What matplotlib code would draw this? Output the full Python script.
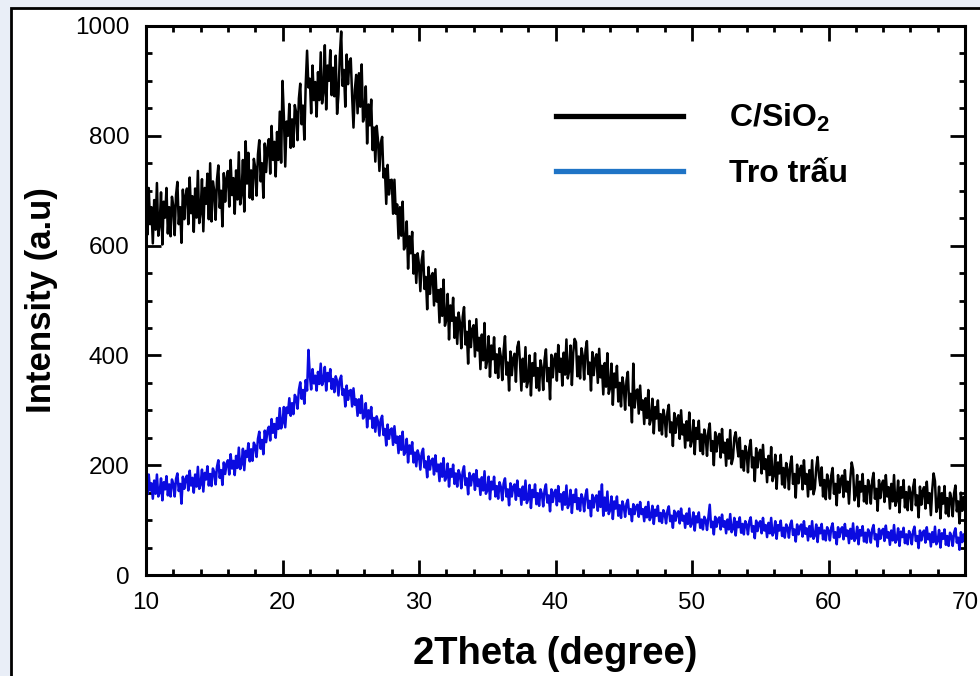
import matplotlib
matplotlib.use("Agg")
import matplotlib.pyplot as plt
from matplotlib.lines import Line2D
from matplotlib.patches import Rectangle
from matplotlib.ticker import MultipleLocator
import numpy as np

plt.rcParams['font.family'] = ['Liberation Sans', 'DejaVu Sans']
plt.rcParams['mathtext.fontset'] = 'custom'
plt.rcParams['mathtext.rm'] = 'Liberation Sans'
plt.rcParams['mathtext.bf'] = 'Liberation Sans:bold'

# 2theta scan, 0.1 degree step from 10 to 70
two_theta = np.linspace(10, 70, 601)

# C/SiO2 intensity, one row per degree (10 .. 69), then 70
c_sio2 = [
    686, 620, 705, 639, 670, 604, 683, 629, 714, 618,
    637, 697, 602, 680, 651, 705, 622, 670, 617, 689,
    672, 619, 692, 716, 639, 670, 605, 702, 648, 691,
    704, 639, 724, 659, 690, 625, 704, 651, 736, 641,
    660, 721, 626, 705, 676, 731, 648, 750, 644, 717,
    700, 647, 720, 746, 669, 700, 635, 732, 680, 723,
    736, 671, 756, 692, 723, 658, 737, 684, 770, 675,
    694, 756, 662, 790, 713, 769, 687, 737, 684, 758,
    742, 691, 766, 792, 717, 750, 687, 786, 734, 779,
    794, 731, 818, 756, 789, 726, 807, 756, 844, 751,
    900, 836, 744, 826, 800, 858, 778, 830, 780, 856,
    842, 792, 868, 895, 821, 855, 793, 893, 955, 888,
    904, 841, 928, 865, 898, 835, 916, 865, 952, 859,
    880, 965, 848, 928, 900, 956, 874, 924, 872, 946,
    840, 875, 946, 990, 891, 920, 853, 948, 894, 935,
    941, 873, 815, 884, 911, 841, 914, 853, 930, 826,
    837, 890, 786, 857, 819, 866, 774, 815, 753, 818,
    790, 736, 787, 798, 724, 740, 676, 747, 693, 719,
    720, 658, 720, 658, 675, 613, 670, 618, 680, 593,
    600, 644, 558, 617, 586, 625, 549, 583, 532, 586,
    565, 517, 573, 590, 521, 543, 484, 561, 512, 544,
    550, 491, 557, 498, 519, 460, 521, 472, 538, 454,
    465, 512, 429, 491, 463, 505, 432, 469, 421, 478,
    460, 413, 470, 488, 420, 443, 385, 463, 415, 448,
    455, 398, 466, 409, 432, 375, 438, 391, 459, 377,
    391, 435, 361, 418, 393, 433, 368, 402, 359, 413,
    397, 355, 409, 435, 365, 387, 336, 407, 364, 395,
    403, 352, 415, 425, 387, 336, 394, 352, 415, 342,
    354, 400, 327, 386, 363, 404, 341, 377, 336, 391,
    377, 337, 393, 411, 353, 377, 320, 401, 360, 393,
    403, 354, 419, 370, 394, 345, 405, 365, 429, 358,
    372, 418, 346, 405, 430, 424, 362, 398, 358, 413,
    399, 356, 410, 426, 366, 387, 336, 406, 364, 394,
    402, 350, 412, 360, 381, 329, 386, 343, 404, 330,
    341, 385, 310, 367, 342, 381, 316, 350, 307, 360,
    344, 301, 354, 370, 309, 330, 278, 385, 305, 335,
    338, 294, 345, 301, 318, 275, 322, 286, 337, 274,
    284, 321, 258, 306, 285, 318, 263, 293, 256, 301,
    288, 252, 297, 310, 260, 278, 235, 295, 259, 284,
    291, 248, 300, 256, 274, 232, 280, 245, 296, 234,
    245, 282, 220, 268, 248, 281, 226, 256, 220, 265,
    253, 217, 262, 276, 226, 244, 200, 260, 225, 250,
    257, 214, 266, 223, 241, 199, 247, 212, 264, 202,
    213, 250, 260, 236, 216, 250, 196, 226, 190, 235,
    223, 187, 232, 246, 196, 214, 171, 231, 196, 221,
    228, 185, 237, 193, 211, 169, 217, 182, 233, 171,
    182, 219, 157, 205, 185, 219, 165, 195, 159, 204,
    192, 156, 201, 216, 166, 184, 141, 201, 167, 192,
    199, 156, 209, 166, 184, 143, 191, 156, 209, 147,
    158, 195, 215, 182, 163, 196, 143, 173, 138, 183,
    171, 139, 181, 195, 148, 166, 127, 182, 150, 174,
    181, 142, 191, 152, 170, 130, 176, 205, 192, 136,
    146, 182, 125, 170, 152, 184, 134, 162, 130, 173,
    162, 130, 172, 186, 139, 157, 117, 173, 140, 165,
    172, 133, 182, 143, 160, 121, 166, 134, 182, 126,
    136, 172, 114, 160, 141, 173, 123, 151, 118, 161,
    150, 118, 160, 174, 127, 145, 105, 161, 128, 153,
    160, 121, 170, 131, 149, 109, 155, 185, 171, 115,
    125, 161, 103, 149, 130, 162, 112, 140, 107, 150,
    139, 107, 149, 163, 116, 134, 94, 150, 117, 142,
    128,
]

# rice husk ash (Tro trấu) intensity, same layout
tro_trau = [
    175, 147, 183, 154, 167, 139, 172, 148, 183, 143,
    150, 176, 136, 169, 156, 180, 145, 165, 143, 174,
    166, 143, 175, 185, 153, 166, 130, 179, 157, 175,
    181, 154, 190, 163, 177, 150, 183, 161, 197, 157,
    165, 192, 152, 186, 174, 198, 163, 184, 162, 194,
    187, 165, 197, 209, 177, 191, 164, 205, 184, 203,
    209, 183, 220, 194, 208, 182, 217, 195, 232, 193,
    202, 230, 191, 226, 215, 240, 207, 229, 208, 241,
    235, 215, 248, 261, 230, 246, 220, 263, 242, 263,
    270, 245, 284, 259, 275, 250, 286, 266, 304, 267,
    277, 306, 269, 305, 295, 322, 290, 313, 293, 328,
    323, 303, 337, 351, 321, 337, 312, 355, 336, 410,
    365, 338, 375, 349, 363, 336, 370, 348, 385, 346,
    354, 379, 336, 368, 353, 375, 339, 357, 333, 362,
    353, 327, 356, 363, 328, 338, 307, 345, 319, 335,
    337, 307, 340, 310, 320, 290, 320, 295, 327, 285,
    289, 313, 269, 300, 285, 306, 268, 286, 261, 289,
    279, 254, 283, 290, 255, 266, 236, 274, 248, 264,
    267, 237, 271, 241, 252, 222, 253, 228, 261, 219,
    224, 248, 205, 236, 221, 242, 205, 223, 198, 227,
    217, 192, 222, 230, 196, 207, 178, 216, 192, 208,
    212, 183, 218, 189, 201, 171, 203, 179, 213, 172,
    178, 203, 161, 193, 179, 201, 166, 185, 161, 191,
    182, 158, 188, 198, 164, 176, 147, 186, 163, 180,
    184, 155, 191, 162, 174, 146, 178, 154, 189, 148,
    154, 179, 138, 170, 156, 179, 143, 162, 139, 169,
    160, 136, 167, 176, 143, 156, 127, 167, 143, 161,
    165, 137, 172, 144, 156, 128, 161, 137, 172, 131,
    138, 164, 122, 155, 142, 165, 129, 149, 126, 156,
    148, 125, 155, 165, 132, 145, 116, 156, 133, 150,
    155, 127, 162, 134, 147, 119, 151, 128, 163, 122,
    129, 155, 113, 146, 133, 156, 120, 140, 117, 147,
    139, 116, 146, 156, 122, 135, 107, 146, 123, 140,
    145, 117, 152, 124, 165, 108, 141, 117, 152, 111,
    118, 143, 102, 134, 121, 143, 108, 127, 104, 134,
    125, 106, 130, 137, 111, 120, 98, 129, 111, 124,
    128, 106, 133, 111, 120, 98, 124, 105, 133, 100,
    106, 126, 93, 119, 108, 126, 98, 113, 95, 118,
    112, 94, 117, 125, 98, 108, 86, 117, 99, 112,
    116, 94, 121, 99, 108, 86, 112, 93, 121, 88,
    94, 114, 81, 107, 96, 114, 86, 101, 83, 106,
    100, 82, 105, 128, 87, 97, 74, 106, 88, 101,
    105, 83, 110, 88, 98, 76, 101, 83, 111, 78,
    84, 104, 72, 97, 87, 105, 77, 93, 74, 98,
    92, 74, 98, 105, 79, 89, 67, 99, 80, 94,
    98, 76, 104, 81, 91, 69, 95, 76, 104, 72,
    78, 98, 66, 91, 81, 99, 71, 86, 68, 92,
    86, 68, 92, 99, 73, 83, 61, 92, 74, 88,
    92, 70, 98, 75, 85, 63, 89, 70, 98, 66,
    72, 92, 60, 86, 76, 93, 65, 81, 63, 87,
    81, 63, 86, 94, 68, 78, 56, 87, 69, 83,
    87, 65, 93, 71, 81, 58, 84, 66, 94, 62,
    68, 88, 56, 82, 72, 89, 61, 77, 59, 83,
    77, 59, 83, 91, 65, 74, 52, 84, 66, 80,
    84, 62, 90, 68, 78, 55, 81, 63, 91, 59,
    65, 85, 53, 79, 69, 86, 58, 74, 56, 80,
    74, 56, 80, 88, 62, 71, 49, 81, 63, 77,
    81, 59, 87, 65, 75, 52, 78, 60, 88, 56,
    62, 82, 50, 76, 66, 83, 55, 71, 53, 77,
    71, 53, 77, 85, 59, 68, 46, 78, 60, 74,
    66,
]

labels = [r'C/SiO$_\mathbf{2}$', 'Tro trấu']
line_colors = ['black', '#0b0be0']
legend_colors = ['black', '#1f74c6']

fig = plt.figure(figsize=(9.8, 6.76), dpi=100)
fig.patch.set_facecolor('#e9eef7')
# white panel with dark border, as in the screenshot
fig.add_artist(Rectangle((11 / 980, -0.05), 1.1, 1.05 - 8 / 676,
                         transform=fig.transFigure, facecolor='white',
                         edgecolor='black', linewidth=2, zorder=0))

ax = fig.add_axes([146 / 980, 1 - 575 / 676, 819 / 980, 549 / 676])
ax.plot(two_theta, c_sio2, color=line_colors[0], lw=1.8)
ax.plot(two_theta, tro_trau, color=line_colors[1], lw=1.8)

ax.set_xlim(10, 70)
ax.set_ylim(0, 1000)
ax.xaxis.set_major_locator(MultipleLocator(10))
ax.xaxis.set_minor_locator(MultipleLocator(2))
ax.yaxis.set_major_locator(MultipleLocator(200))
ax.yaxis.set_minor_locator(MultipleLocator(50))
ax.tick_params(which='both', direction='in', top=True, right=True, width=2)
ax.tick_params(which='major', length=11, labelsize=17.5, pad=12)
ax.tick_params(which='minor', length=4.5)
for s in ax.spines.values():
    s.set_linewidth(2.2)

ax.set_xlabel('2Theta (degree)', fontsize=27.5, fontweight='bold', labelpad=16)
ax.set_ylabel('Intensity (a.u)', fontsize=25, fontweight='bold', labelpad=12)

handles = [Line2D([], [], color=c, lw=3.8) for c in legend_colors]
leg = ax.legend(handles, labels, loc='upper left', bbox_to_anchor=(0.466, 0.914),
                frameon=False, handlelength=3.95, handletextpad=1.45,
                labelspacing=0.77, prop={'size': 23, 'weight': 'bold'})

fig.savefig('out.png', dpi=100)
